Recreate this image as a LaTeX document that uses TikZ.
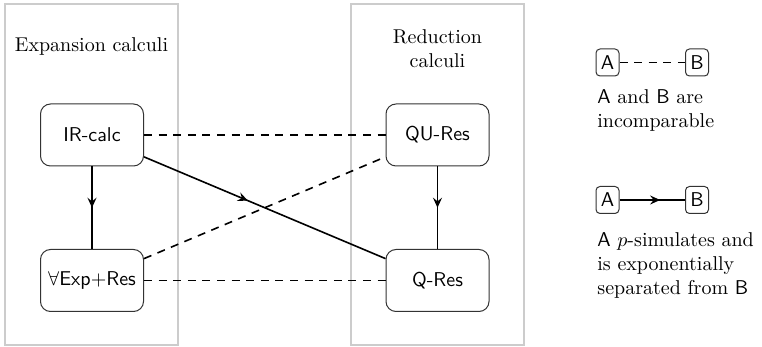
\documentclass[tikz,border=0pt]{standalone}
\usetikzlibrary{arrows.meta,decorations.markings}
\begin{document}
\begin{tikzpicture}[x=0.5pt,y=-0.5pt,
  calcgroup/.style={draw=black!20, line width=1pt, minimum width=86.5pt,
    minimum height=170.5pt, inner sep=0pt},
  calcbox/.style={draw=black!80, line width=0.5pt, rounded corners=5pt,
    minimum width=51.5pt, minimum height=31pt, inner sep=0pt, font=\sffamily},
  legendbox/.style={draw=black!80, line width=0.5pt, rounded corners=2pt,
    minimum width=11.5pt, minimum height=13.5pt, inner sep=0pt, font=\sffamily},
  inc/.style={line width=0.8pt, dash pattern=on 4pt off 3.3pt},
  sim/.style={line width=0.8pt, postaction={decorate},
    decoration={markings, mark=at position #1 with
      {\arrow{Stealth[length=5pt,width=4.5pt,inset=1.8pt]}}}},
  note/.style={anchor=west, align=left, inner sep=0pt},
]
\useasboundingbox (0,0) rectangle (762,347);

% the two families of calculi
\node[calcgroup] (expgrp) at (91.5,174.5) {};
\node[calcgroup] (redgrp) at (437.5,174.5) {};
\node (exptitle) at (91.5,47) {Expansion calculi};
\node[align=center] (redtitle) at (437.5,49) {Reduction\\calculi};

% proof systems
\node[calcbox] (ir)  at (92,135)    {IR-calc};
\node[calcbox] (exp) at (92,280.5)  {$\forall$Exp${+}$Res};
\node[calcbox] (qu)  at (437.5,135) {QU-Res};
\node[calcbox] (q)   at (437.5,280.5) {Q-Res};

% incomparable pairs
\draw[inc] (ir) -- (qu);
\draw[inc] (exp) -- (q);
\draw[inc] (exp) -- (qu);

% p-simulation with exponential separation
\draw[sim=0.5] (ir) -- (exp);
\draw[sim=0.43] (ir) -- (q);
\draw[sim=0.5] (qu) -- (q);

% legend
\node[legendbox] (a1) at (607.5,62.5) {A};
\node[legendbox] (b1) at (697,62.5) {B};
\draw[inc] (a1) -- (b1);
\node[note] (t1) at (597,111) {\textsf{A} and \textsf{B} are\\incomparable};

\node[legendbox] (a2) at (607.5,200) {A};
\node[legendbox] (b2) at (697,200) {B};
\draw[sim=0.62] (a2) -- (b2);
\node[note] (t2) at (597,266) {\textsf{A} $p$-simulates and\\is exponentially\\separated from \textsf{B}};
\end{tikzpicture}
\end{document}
